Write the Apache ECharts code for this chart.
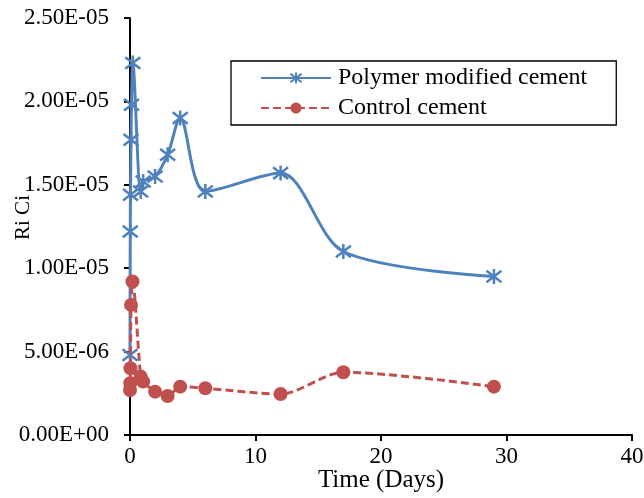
<!DOCTYPE html>
<html>
<head>
<meta charset="utf-8">
<script src="https://cdn.jsdelivr.net/npm/echarts@6/dist/echarts.min.js"></script>
<style>html,body{margin:0;padding:0;background:#fff}#c{width:644px;height:498px}</style>
</head>
<body>
<div id="c"></div>
<script>
var polymerDays = [0, 0.02, 0.04, 0.08, 0.12, 0.22, 0.85, 1.05, 2, 3, 4, 6, 12, 17, 29];
var polymerRiCi = [4.8e-6, 1.22e-5, 1.44e-5, 1.77e-5, 1.98e-5, 2.23e-5, 1.46e-5, 1.52e-5, 1.55e-5, 1.68e-5, 1.90e-5, 1.46e-5, 1.57e-5, 1.10e-5, 9.5e-6];
var controlDays = [0, 0.02, 0.04, 0.08, 0.2, 0.85, 1.05, 2, 3, 4, 6, 12, 17, 29];
var controlRiCi = [2.7e-6, 3.1e-6, 4.0e-6, 7.8e-6, 9.2e-6, 3.5e-6, 3.2e-6, 2.6e-6, 2.34e-6, 2.9e-6, 2.8e-6, 2.46e-6, 3.76e-6, 2.9e-6];
var seriesNames = ['Polymer modified cement', 'Control cement'];

function pairs(xs, ys){ return xs.map(function(x,i){ return [x, ys[i]]; }); }
function sci(v){
  if (v === 0) return '0.00E+00';
  var s = v.toExponential(2).split('e');
  var e = parseInt(s[1], 10);
  var sign = e < 0 ? '-' : '+';
  var a = Math.abs(e);
  return s[0] + 'E' + sign + (a < 10 ? '0' + a : a);
}
var font = 'Liberation Serif';
var star = 'path://M-10,-10L10,10M10,-10L-10,10M0,-13L0,13';
var chart = echarts.init(document.getElementById('c'), null, {renderer:'canvas'});
chart.setOption({
  animation: false,
  backgroundColor: '#fff',
  grid: {left: 130, top: 18, right: 12, bottom: 63, containLabel: false, outerBoundsMode: 'none'},
  legend: {
    orient: 'vertical', left: 231, top: 61,
    padding: [5, 29, 5, 29], itemGap: 6,
    borderColor: '#000', borderWidth: 1.3,
    itemWidth: 70, itemHeight: 14,
    textStyle: {fontFamily: font, fontSize: 24, color: '#000', padding: [0,0,0,2]},
    data: seriesNames
  },
  xAxis: {
    type: 'value', min: 0, max: 40, interval: 10,
    name: 'Time (Days)', nameLocation: 'middle', nameGap: 33, nameMoveOverlap: false,
    nameTextStyle: {fontFamily: font, fontSize: 25, color: '#000'},
    axisLine: {onZero: false, lineStyle: {color: '#000', width: 2}},
    axisTick: {inside: false, length: 6, lineStyle: {color: '#000', width: 2}},
    axisLabel: {fontFamily: font, fontSize: 23, color: '#000', margin: 10},
    splitLine: {show: false}
  },
  yAxis: {
    type: 'value', min: 0, max: 2.5e-5, interval: 5e-6,
    name: 'Ri Ci', nameLocation: 'middle', nameGap: 96, nameMoveOverlap: false,
    nameTextStyle: {fontFamily: font, fontSize: 21, color: '#000', padding: [0,0,0,18]},
    axisLine: {show: true, lineStyle: {color: '#000', width: 2}},
    axisTick: {show: true, inside: false, length: 6, lineStyle: {color: '#000', width: 2}},
    axisLabel: {fontFamily: font, fontSize: 23, color: '#000', margin: 21, formatter: sci},
    splitLine: {show: false}
  },
  series: [
    {
      name: seriesNames[0], type: 'line', smooth: 0.3,
      data: pairs(polymerDays, polymerRiCi),
      symbol: star, symbolSize: 15,
      itemStyle: {color: '#4F81BD', borderColor: '#4F81BD', borderWidth: 2.5},
      lineStyle: {color: '#4F81BD', width: 3}, z: 2
    },
    {
      name: seriesNames[1], type: 'line', smooth: 0.3,
      data: pairs(controlDays, controlRiCi),
      symbol: 'circle', symbolSize: 14,
      itemStyle: {color: '#C0504D', borderWidth: 0},
      lineStyle: {color: '#C0504D', width: 3, type: [8, 4]}, z: 3
    }
  ]
});
</script>
</body>
</html>
